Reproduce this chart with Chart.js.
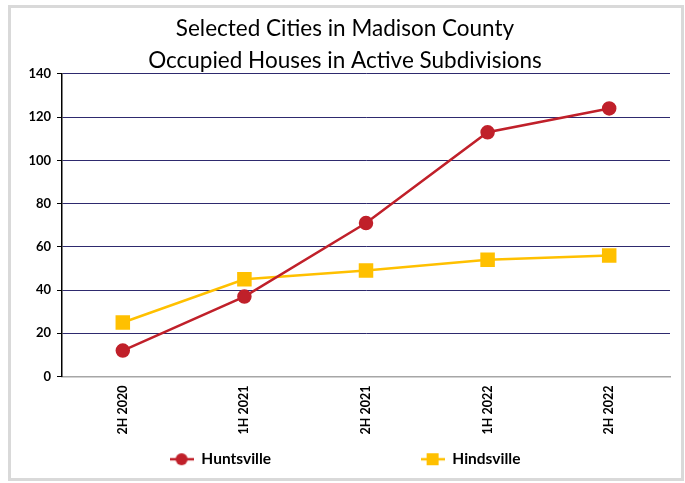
<!DOCTYPE html>
<html>
<head>
<meta charset="utf-8">
<script src="https://cdn.jsdelivr.net/npm/chart.js@4/dist/chart.umd.min.js"></script>
<style>
html,body{margin:0;padding:0;background:#fff;}
#frame{position:absolute;left:8px;top:5px;width:670px;height:470px;border:3px solid #d9d9d9;}
#c{position:absolute;left:0;top:0;}
</style>
</head>
<body>
<div id="frame"></div>
<canvas id="c" width="685" height="483"></canvas>
<script>
const categories = ["2H 2020", "1H 2021", "2H 2021", "1H 2022", "2H 2022"];
const huntsville = [12, 37, 71, 113, 124];
const hindsville = [25, 45, 49, 54, 56];
const titleLines = ["Selected Cities in Madison County", "Occupied Houses in Active Subdivisions"];
const seriesNames = ["Huntsville", "Hindsville"];

const RED = "#c0202a";
const YEL = "#ffc000";
const FONT = "Lato, 'Liberation Sans', sans-serif";

function legendIcon(color, shape) {
  const cv = document.createElement("canvas");
  cv.width = 24; cv.height = 14;
  const g = cv.getContext("2d");
  g.strokeStyle = color; g.lineWidth = 2.5;
  g.beginPath(); g.moveTo(0, 7); g.lineTo(24, 7); g.stroke();
  g.fillStyle = color;
  if (shape === "circle") { g.beginPath(); g.arc(12, 7, 6, 0, Math.PI * 2); g.fill(); }
  else { g.fillRect(6, 1, 12, 12); }
  return cv;
}
const icons = [legendIcon(RED, "circle"), legendIcon(YEL, "rect")];
const spacer = "\u2003".repeat(12);

new Chart(document.getElementById("c"), {
  type: "line",
  data: {
    labels: categories,
    datasets: [
      { label: seriesNames[0], data: huntsville, borderColor: RED, backgroundColor: RED,
        borderWidth: 2.5, pointStyle: "circle", pointRadius: 6, pointHoverRadius: 6, tension: 0 },
      { label: seriesNames[1], data: hindsville, borderColor: YEL, backgroundColor: YEL,
        borderWidth: 2.5, pointStyle: "rect", pointRadius: 8.5, pointHoverRadius: 8.5, tension: 0 }
    ]
  },
  options: {
    responsive: false,
    animation: false,
    layout: { padding: { left: 20, right: 15, top: 0, bottom: 6 } },
    plugins: {
      title: {
        display: true, text: titleLines, color: "#000",
        font: { family: FONT, size: 22.5, weight: "normal", lineHeight: 1.42 },
        padding: { top: 13, bottom: -3 }
      },
      legend: {
        position: "bottom",
        labels: {
          usePointStyle: true, pointStyleWidth: 24, padding: 10, color: "#000",
          font: { family: FONT, size: 15.5, weight: "bold" },
          generateLabels(chart) {
            const items = Chart.defaults.plugins.legend.labels.generateLabels(chart);
            items.forEach((it, i) => {
              it.pointStyle = icons[i];
              if (i === 0) it.text = it.text + spacer;
            });
            return items;
          }
        }
      },
      tooltip: { enabled: false }
    },
    scales: {
      x: {
        offset: true,
        grid: { display: false, drawTicks: false, offset: true },
        border: { display: true, color: "#a6a6a6", width: 1.5 },
        ticks: { minRotation: 90, maxRotation: 90, color: "#000", padding: 9,
          font: { family: FONT, size: 12.5, weight: "bold" } },
        afterFit(s) { s.height = 65; }
      },
      y: {
        min: 0, max: 140,
        ticks: { stepSize: 20, color: "#000", padding: 6,
          font: { family: FONT, size: 13, weight: "bold" } },
        grid: { color: "#2e2a6e", lineWidth: 1, tickColor: "#000", tickLength: 5 },
        border: { display: true, color: "#000", width: 1.5 },
        afterFit(s) { s.width = 42; }
      }
    }
  }
});
</script>
</body>
</html>
